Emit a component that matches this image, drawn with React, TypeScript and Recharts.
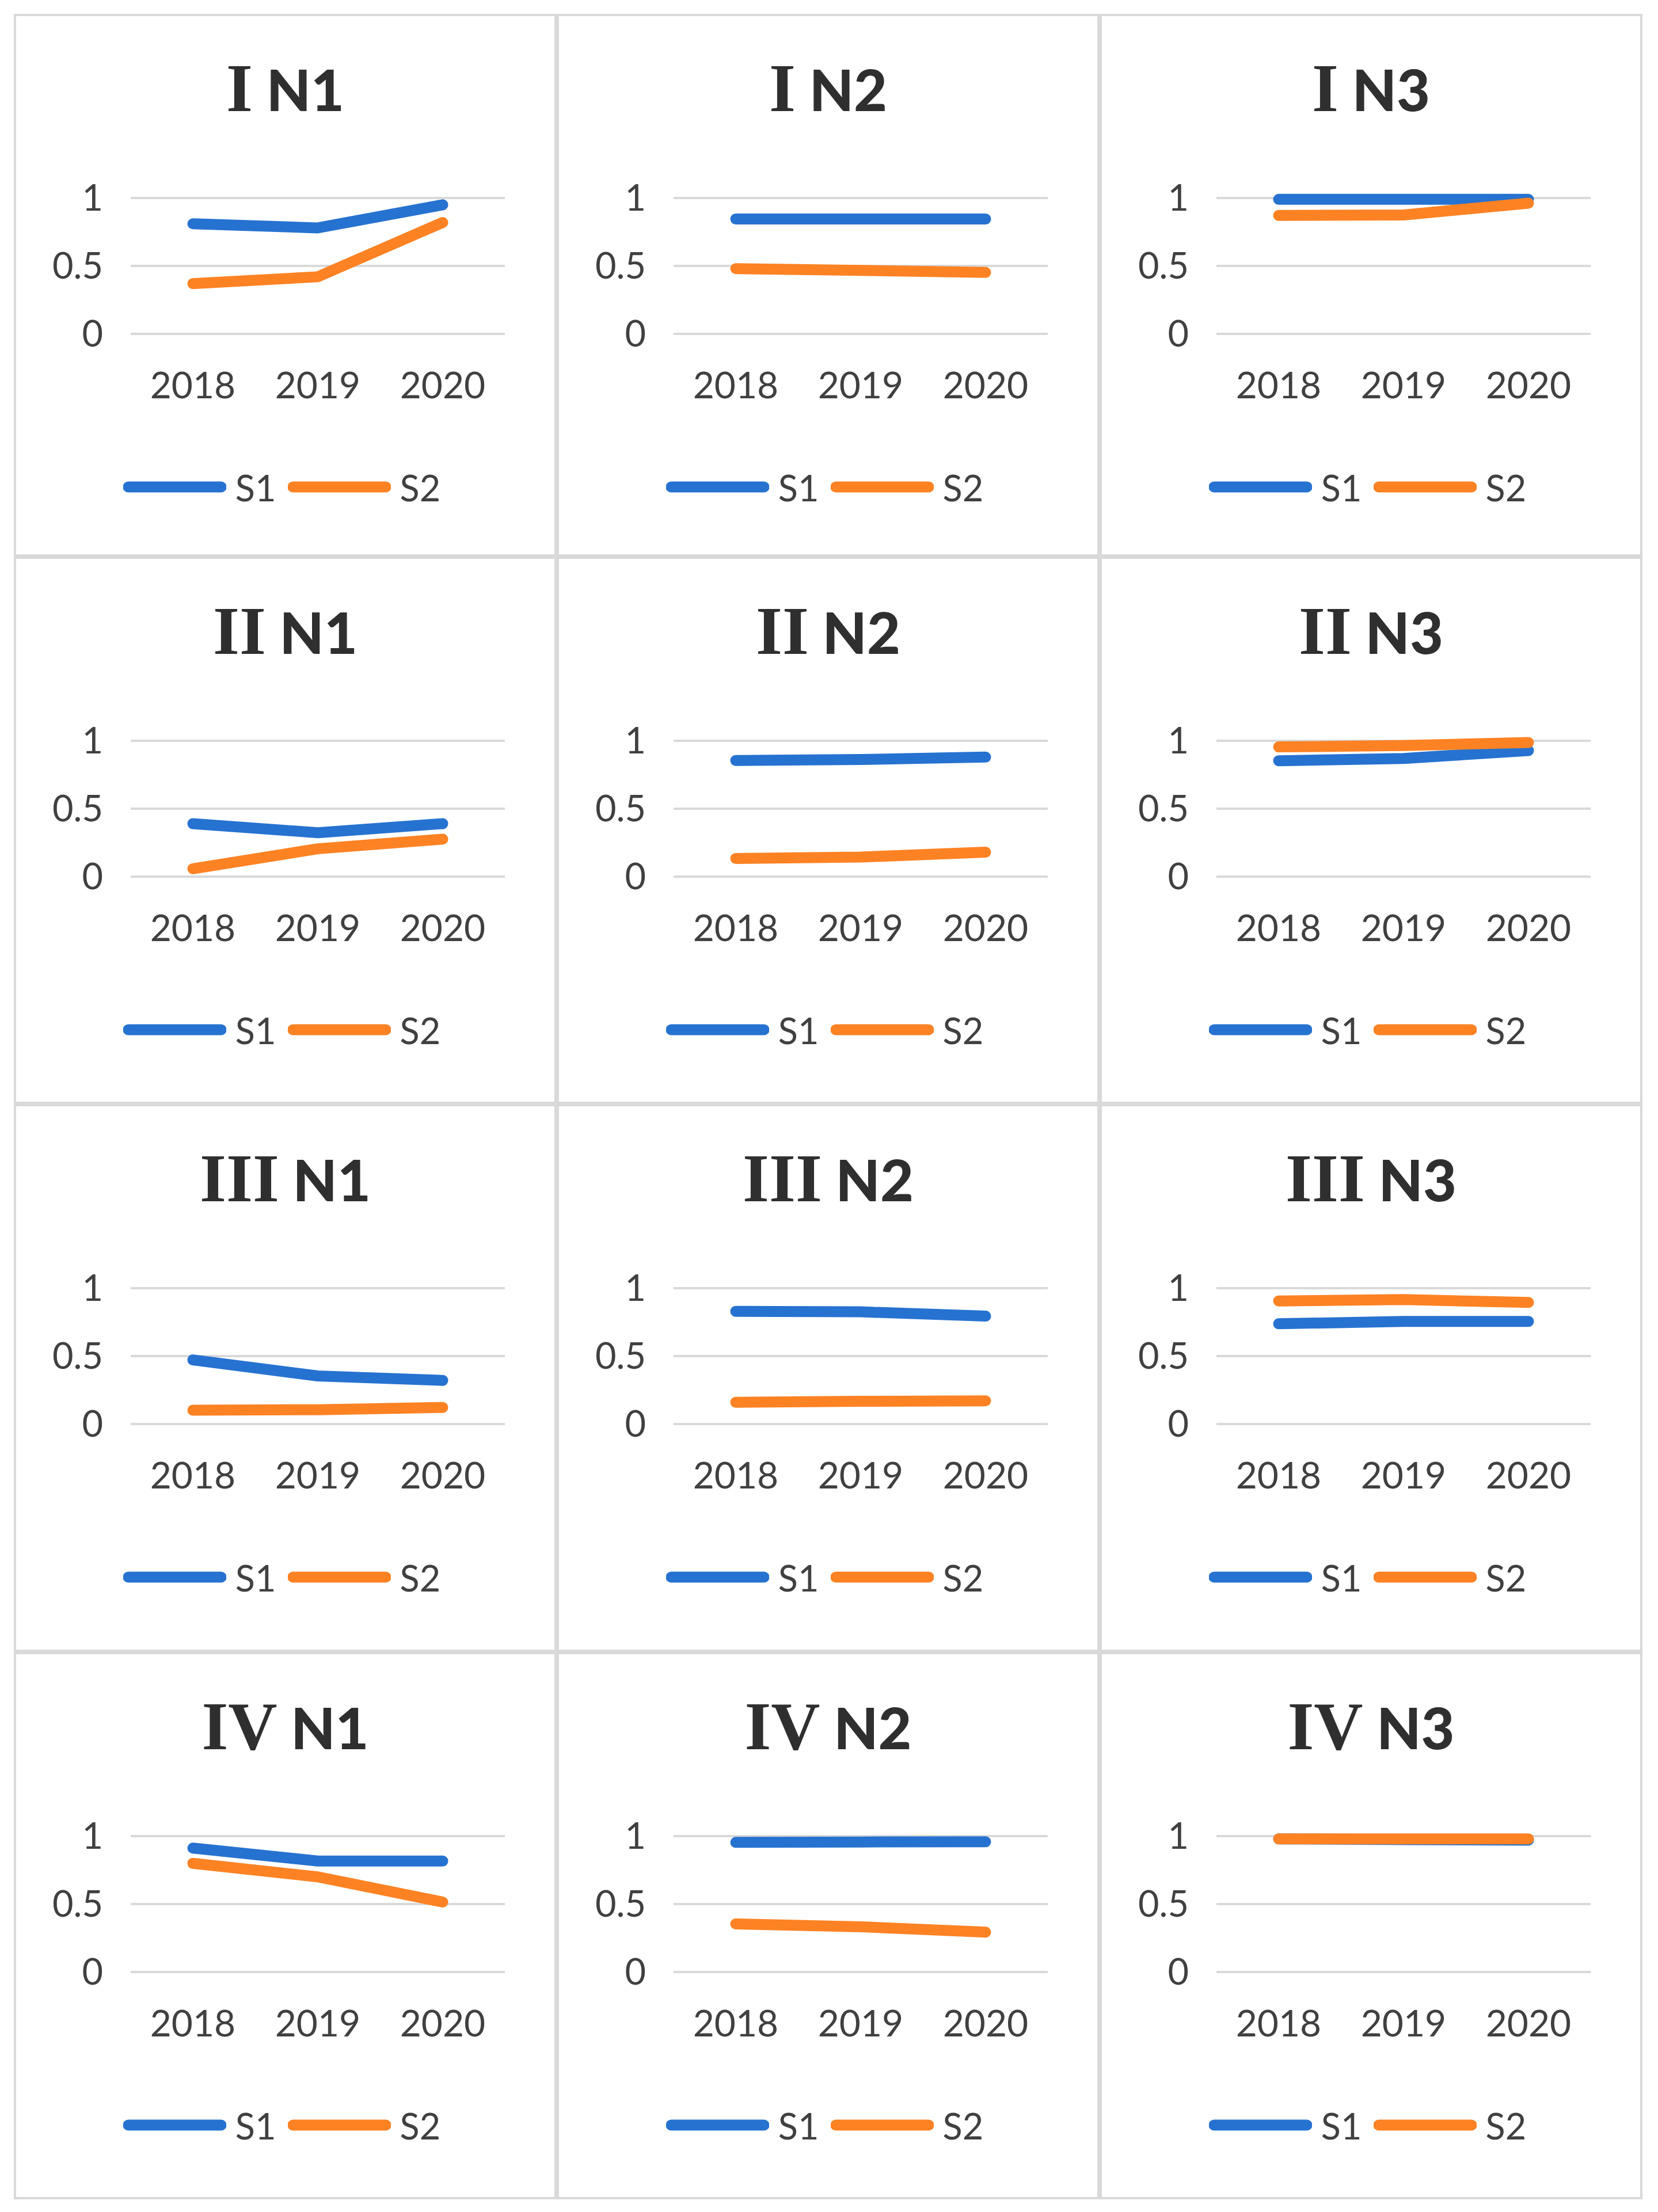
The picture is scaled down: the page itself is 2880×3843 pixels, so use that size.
import { LineChart, Line, XAxis, YAxis, CartesianGrid, Legend } from 'recharts';

const YEARS = ['2018', '2019', '2020'];
const Y_TICKS = [0, 0.5, 1];
const GROUPS = ['I', 'II', 'III', 'IV'];
const LEVELS = ['N1', 'N2', 'N3'];

// one triple per level (N1, N2, N3), values for 2018..2020
const S1_I = [[0.81, 0.78, 0.95], [0.845, 0.845, 0.845], [0.99, 0.99, 0.99]];
const S2_I = [[0.37, 0.42, 0.82], [0.48, 0.467, 0.452], [0.872, 0.875, 0.962]];
const S1_II = [[0.39, 0.323, 0.39], [0.855, 0.862, 0.88], [0.853, 0.87, 0.928]];
const S2_II = [[0.058, 0.205, 0.276], [0.134, 0.144, 0.18], [0.955, 0.965, 0.987]];
const S1_III = [[0.472, 0.354, 0.321], [0.829, 0.826, 0.794], [0.738, 0.755, 0.755]];
const S2_III = [[0.102, 0.105, 0.122], [0.16, 0.167, 0.171], [0.906, 0.916, 0.895]];
const S1_IV = [[0.912, 0.817, 0.817], [0.954, 0.957, 0.959], [0.98, 0.975, 0.97]];
const S2_IV = [[0.8, 0.7, 0.515], [0.354, 0.333, 0.293], [0.98, 0.98, 0.98]];

const S1_ROWS = [S1_I, S1_II, S1_III, S1_IV];
const S2_ROWS = [S2_I, S2_II, S2_III, S2_IV];

const ROW_HEIGHTS = [943, 951, 952, 951];
const PANEL_W = 943;
const BORDER = 4;

const BLUE = '#2672D0';
const ORANGE = '#FD8223';
const TEXT = '#404040';
const GRID = '#d9d9d9';
const SANS = 'Lato, "Open Sans", sans-serif';

function LegendContent({ payload }: any) {
  return (
    <div
      style={{
        display: 'flex',
        justifyContent: 'center',
        alignItems: 'center',
        height: 70,
        paddingRight: 12,
        fontFamily: SANS,
        fontSize: 63,
        color: TEXT,
      }}
    >
      {(payload || []).map((item: any, i: number) => (
        <div key={item.value} style={{ display: 'flex', alignItems: 'center', marginLeft: i ? 20 : 0 }}>
          <svg width={179} height={20}>
            <line x1={9} y1={10} x2={170} y2={10} stroke={item.color} strokeWidth={19} strokeLinecap="round" />
          </svg>
          <span style={{ marginLeft: 16, lineHeight: 1 }}>{item.value}</span>
        </div>
      ))}
    </div>
  );
}

function Panel({ row, col, height }: { row: number; col: number; height: number }) {
  const innerW = PANEL_W - BORDER * 2;
  const innerH = height - BORDER * 2;
  const s1 = S1_ROWS[row][col];
  const s2 = S2_ROWS[row][col];
  const data = YEARS.map((year, i) => ({ year, S1: s1[i], S2: s2[i] }));

  return (
    <div
      style={{
        position: 'relative',
        width: PANEL_W,
        height,
        boxSizing: 'border-box',
        border: `${BORDER}px solid ${GRID}`,
        background: '#fff',
      }}
    >
      <svg width={innerW} height={240} style={{ position: 'absolute', left: 0, top: 0 }}>
        <text x={innerW / 2} y={165} textAnchor="middle" fill="#2f2f2f">
          <tspan fontFamily='"Liberation Serif", serif' fontWeight="bold" fontSize={118}>
            {GROUPS[row]}
          </tspan>
          <tspan fontFamily={SANS} fontWeight={900} fontSize={100}>
            {' ' + LEVELS[col]}
          </tspan>
        </text>
      </svg>
      <LineChart
        width={innerW}
        height={innerH}
        data={data}
        margin={{ top: 316, right: 86, left: 99, bottom: innerH - 552 - 100 }}
      >
        <CartesianGrid vertical={false} stroke={GRID} strokeWidth={4} />
        <XAxis
          dataKey="year"
          height={100}
          axisLine={false}
          tickLine={false}
          tickSize={0}
          tickMargin={67}
          padding={{ left: 108, right: 108 }}
          tick={{ fontFamily: SANS, fontSize: 64, fill: TEXT }}
        />
        <YAxis
          width={100}
          domain={[0, 1]}
          ticks={Y_TICKS}
          axisLine={false}
          tickLine={false}
          tickSize={0}
          tickMargin={48}
          tick={{ fontFamily: SANS, fontSize: 63, fill: TEXT }}
        />
        <Legend
          verticalAlign="middle"
          content={<LegendContent />}
          wrapperStyle={{ top: 822 - BORDER - 35, left: 0, width: innerW, height: 70 }}
        />
        <Line
          dataKey="S1"
          name="S1"
          stroke={BLUE}
          strokeWidth={19}
          strokeLinecap="round"
          strokeLinejoin="round"
          dot={false}
          activeDot={false}
          isAnimationActive={false}
        />
        <Line
          dataKey="S2"
          name="S2"
          stroke={ORANGE}
          strokeWidth={19}
          strokeLinecap="round"
          strokeLinejoin="round"
          dot={false}
          activeDot={false}
          isAnimationActive={false}
        />
      </LineChart>
    </div>
  );
}

export default function App() {
  return (
    <div style={{ margin: '16px 0 0 16px', width: PANEL_W * 3, background: '#fff' }}>
      {GROUPS.map((g, row) => (
        <div key={g} style={{ display: 'flex' }}>
          {LEVELS.map((lv, col) => (
            <Panel key={lv} row={row} col={col} height={ROW_HEIGHTS[row]} />
          ))}
        </div>
      ))}
    </div>
  );
}
